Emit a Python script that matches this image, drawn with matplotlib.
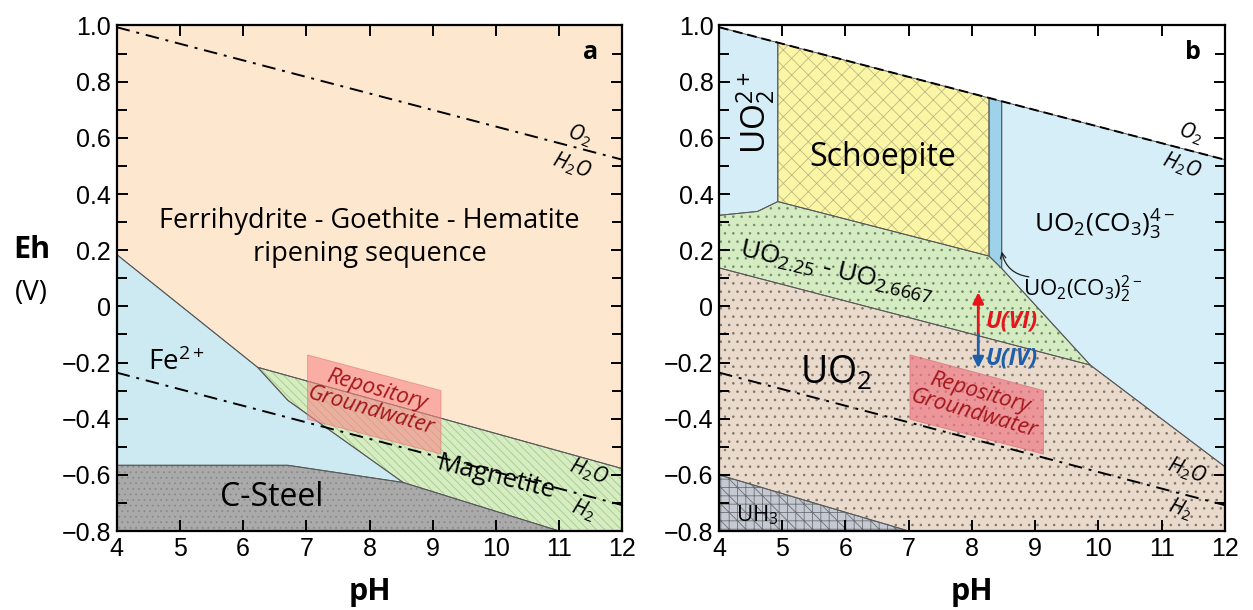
import numpy as np
import matplotlib
matplotlib.use("Agg")
import matplotlib.pyplot as plt
from matplotlib.ticker import FuncFormatter, MultipleLocator

plt.rcParams["font.family"] = ["Open Sans", "DejaVu Sans"]
plt.rcParams["mathtext.fontset"] = "custom"
plt.rcParams["mathtext.rm"] = "Open Sans"
plt.rcParams["mathtext.it"] = "Open Sans:italic"
plt.rcParams["mathtext.bf"] = "Open Sans:bold"
plt.rcParams["hatch.linewidth"] = 0.6

# ── water stability lines (pH, Eh end points) ──
o2_h2o_ph = [4, 12]
o2_h2o_eh = [0.994, 0.522]
h2o_h2_ph = [4, 12]
h2o_h2_eh = [-0.236, -0.708]

# ── panel a : iron system ──
ferri_ph = [4, 12, 12, 6.23, 4]
ferri_eh = [1.0, 1.0, -0.578, -0.217, 0.185]
fe2_ph = [4, 6.23, 6.71, 8.53, 6.71, 4]
fe2_eh = [0.185, -0.217, -0.335, -0.627, -0.566, -0.566]
magn_ph = [6.23, 12, 12, 11.0, 8.53, 6.71]
magn_eh = [-0.217, -0.578, -0.8, -0.8, -0.627, -0.335]
steel_ph = [4, 6.71, 8.53, 11.0, 4]
steel_eh = [-0.566, -0.566, -0.627, -0.8, -0.8]

# ── repository groundwater window (both panels) ──
repo_ph = [7.02, 9.13, 9.13, 7.02]
repo_eh = [-0.173, -0.300, -0.526, -0.402]

# ── panel b : uranium system ──
uo2pp_ph = [4, 4.93, 4.93, 4.61, 4]
uo2pp_eh = [0.994, 0.939, 0.373, 0.338, 0.324]
schoe_ph = [4.93, 8.27, 8.27, 4.93]
schoe_eh = [0.939, 0.742, 0.179, 0.373]
dicarb_ph = [8.27, 8.47, 8.47, 8.27]
dicarb_eh = [0.742, 0.730, 0.135, 0.179]
tricarb_ph = [8.47, 12, 12, 9.87, 8.47]
tricarb_eh = [0.730, 0.522, -0.571, -0.209, 0.135]
uo225_ph = [4, 4.61, 4.93, 8.27, 8.47, 9.87, 4]
uo225_eh = [0.324, 0.338, 0.373, 0.179, 0.135, -0.209, 0.137]
uo2_ph = [4, 9.87, 12, 12, 7.0, 4]
uo2_eh = [0.137, -0.209, -0.571, -0.8, -0.8, -0.6]
uh3_ph = [4, 7.0, 4]
uh3_eh = [-0.6, -0.8, -0.8]

# redox arrow U(VI)/U(IV)
arrow_ph = 8.1
arrow_mid, arrow_top, arrow_bot = -0.10, 0.05, -0.22

# pointer to the UO2(CO3)2 strip
dicarb_tip = (8.47, 0.195)
dicarb_tail = (8.9, 0.105)

EDGE = "#5a5a5a"


def region(ax, ph, eh, color, hatch=None, hcolor=None, z=1):
    ax.fill(ph, eh, facecolor=color, edgecolor="none", zorder=z)
    if hatch:
        ax.fill(ph, eh, facecolor="none", edgecolor=hcolor, hatch=hatch,
                linewidth=0, zorder=z)
    ax.fill(ph, eh, facecolor="none", edgecolor=EDGE, linewidth=0.7, zorder=z + 0.1)


def eh_fmt(v, pos):
    if abs(v) < 1e-9:
        return "0"
    return f"{v:.1f}".replace("-", "\u2212")


def style_axes(ax):
    ax.set_xlim(4, 12)
    ax.set_ylim(-0.8, 1.0)
    ax.set_xticks(range(4, 13))
    ax.yaxis.set_major_locator(MultipleLocator(0.2))
    ax.yaxis.set_minor_locator(MultipleLocator(0.1))
    ax.yaxis.set_major_formatter(FuncFormatter(eh_fmt))
    ax.tick_params(which="both", direction="in", top=True, right=True,
                   width=1.4, labelsize=18, pad=4)
    ax.tick_params(which="major", length=8)
    ax.tick_params(which="minor", length=7)
    for lab in ax.get_xticklabels() + ax.get_yticklabels():
        lab.set_fontfamily("Liberation Sans")
    for s in ax.spines.values():
        s.set_linewidth(1.6)
        s.set_zorder(10)
    ax.set_xlabel("pH", fontsize=22, fontweight="bold", labelpad=12)


DASHDOT = (0, (7, 3.5, 1.5, 3.5))

fig = plt.figure(figsize=(12.53, 6.10), dpi=100)
ax1 = fig.add_axes([0.0930, 0.1295, 0.4038, 0.8287])
ax2 = fig.add_axes([0.5738, 0.1295, 0.4038, 0.8287])

# ──────────── panel a ────────────
region(ax1, ferri_ph, ferri_eh, "#fde8cf")
region(ax1, fe2_ph, fe2_eh, "#cdeaf3")
region(ax1, magn_ph, magn_eh, "#d6edc2", r"\\\\", "#a3c98f")
region(ax1, steel_ph, steel_eh, "#aaaaaa", "...", "#8a8a8a")
ax1.fill(repo_ph, repo_eh, facecolor="#f88686", alpha=0.6,
         edgecolor="#e07070", linewidth=0.6, zorder=3)
ax1.plot(o2_h2o_ph, o2_h2o_eh, color="black", lw=1.4, ls=DASHDOT, zorder=4)
ax1.plot(h2o_h2_ph, h2o_h2_eh, color="black", lw=1.4, ls=DASHDOT, zorder=4)

ax1.text(11.49, 0.905, "a", fontsize=18, fontweight="bold", ha="center", va="center")
ax1.text(8.0, 0.245, "Ferrihydrite - Goethite - Hematite\nripening sequence",
         fontsize=19.5, ha="center", va="center", linespacing=1.2)
ax1.text(4.95, -0.2, r"Fe$^{2+}$", fontsize=20, ha="center", va="center")
ax1.text(6.45, -0.68, "C-Steel", fontsize=23, ha="center", va="center")
ax1.text(10.0, -0.61, "Magnetite", fontsize=18.5, ha="center", va="center",
         rotation=-14, zorder=5)
ax1.text(8.07, -0.335, "Repository\nGroundwater", fontsize=16, style="italic",
         color="#a3161b", ha="center", va="center", rotation=-16, linespacing=1.0,
         zorder=5)
ax1.text(11.33, 0.61, "$O_2$", fontsize=15, ha="center", va="center", rotation=-20)
ax1.text(11.2, 0.5, "$H_2O$", fontsize=15, ha="center", va="center", rotation=-20)
ax1.text(11.47, -0.59, "$H_2O$", fontsize=15, ha="center", va="center", rotation=-20)
ax1.text(11.38, -0.725, "$H_2$", fontsize=15, ha="center", va="center", rotation=-20)
ax1.text(-0.168, 0.556, "Eh", transform=ax1.transAxes, fontsize=22,
         fontweight="bold", ha="center", va="center")
ax1.text(-0.168, 0.471, "(V)", transform=ax1.transAxes, fontsize=20,
         ha="center", va="center")
style_axes(ax1)

# ──────────── panel b ────────────
region(ax2, uo2pp_ph, uo2pp_eh, "#d4edf6")
region(ax2, schoe_ph, schoe_eh, "#fbf6a6", "xx", "#bdb87f")
region(ax2, dicarb_ph, dicarb_eh, "#9dd2ea")
region(ax2, tricarb_ph, tricarb_eh, "#d6eef7")
region(ax2, uo225_ph, uo225_eh, "#d5ecc3", "..", "#6f8f68")
region(ax2, uo2_ph, uo2_eh, "#e9dacb", "..", "#7d746c")
region(ax2, uh3_ph, uh3_eh, "#c5c9d1", r"\\--||", "#6c6f76")
ax2.fill(repo_ph, repo_eh, facecolor="#ee7a86", alpha=0.7,
         edgecolor="#d46a72", linewidth=0.6, zorder=3)
ax2.plot(o2_h2o_ph, o2_h2o_eh, color="black", lw=1.4, ls=(0, (5, 2.5)), zorder=4)
ax2.plot(h2o_h2_ph, h2o_h2_eh, color="black", lw=1.4, ls=DASHDOT, zorder=4)

ax2.annotate("", xy=(arrow_ph, arrow_top), xytext=(arrow_ph, arrow_mid),
             arrowprops=dict(arrowstyle="-|>", color="#e8141c", lw=2,
                             mutation_scale=16, shrinkA=0, shrinkB=0), zorder=6)
ax2.annotate("", xy=(arrow_ph, arrow_bot), xytext=(arrow_ph, arrow_mid),
             arrowprops=dict(arrowstyle="-|>", color="#1f5ea8", lw=2,
                             mutation_scale=16, shrinkA=0, shrinkB=0), zorder=6)
ax2.text(8.22, -0.055, "U(VI)", color="#e8141c", fontsize=16.5, fontweight="bold",
         style="italic", ha="left", va="center", zorder=6)
ax2.text(8.22, -0.185, "U(IV)", color="#1f5ea8", fontsize=16.5, fontweight="bold",
         style="italic", ha="left", va="center", zorder=6)

ax2.text(11.49, 0.905, "b", fontsize=18, fontweight="bold", ha="center", va="center")
ax2.text(4.58, 0.69, r"$\mathregular{UO_2^{2+}}$", fontsize=24, rotation=90,
         ha="center", va="center")
ax2.text(6.59, 0.53, "Schoepite", fontsize=23, ha="center", va="center", zorder=5)
ax2.text(10.1, 0.29, r"$\mathregular{UO_2(CO_3)_3^{4-}}$", fontsize=19,
         ha="center", va="center")
ax2.text(5.85, 0.125, r"$\mathregular{UO_{2.25}}$ - $\mathregular{UO_{2.6667}}$",
         fontsize=19, ha="center", va="center", rotation=-13, zorder=5)
ax2.text(9.75, 0.06, r"$\mathregular{UO_2(CO_3)_2^{2-}}$", fontsize=16,
         ha="center", va="center", zorder=6)
ax2.annotate("", xy=dicarb_tip, xytext=dicarb_tail,
             arrowprops=dict(arrowstyle="->", color="#222222", lw=0.9,
                             connectionstyle="arc3,rad=-0.35",
                             shrinkA=0, shrinkB=0), zorder=6)
ax2.text(5.85, -0.24, r"$\mathregular{UO_2}$", fontsize=27, ha="center",
         va="center", zorder=5)
ax2.text(4.6, -0.745, r"$\mathregular{UH_3}$", fontsize=16, ha="center",
         va="center", zorder=5)
ax2.text(8.07, -0.345, "Repository\nGroundwater", fontsize=16, style="italic",
         color="#a3161b", ha="center", va="center", rotation=-16, linespacing=1.0,
         zorder=5)
ax2.text(11.45, 0.615, "$O_2$", fontsize=15, ha="center", va="center", rotation=-20)
ax2.text(11.32, 0.5, "$H_2O$", fontsize=15, ha="center", va="center", rotation=-20)
ax2.text(11.4, -0.585, "$H_2O$", fontsize=15, ha="center", va="center", rotation=-20)
ax2.text(11.3, -0.72, "$H_2$", fontsize=15, ha="center", va="center", rotation=-20)
style_axes(ax2)

fig.savefig("out.png", dpi=100)
